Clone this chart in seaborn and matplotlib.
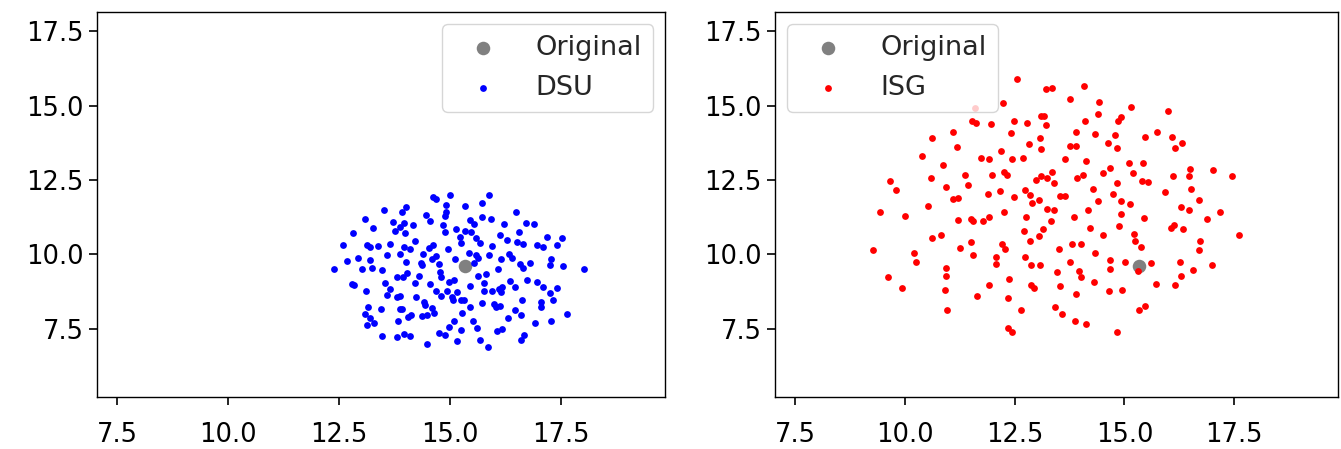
import numpy as np
import matplotlib
matplotlib.use("Agg")
import matplotlib.pyplot as plt
import seaborn as sns

# ── DATA ──────────────────────────────────────────────────────────────────────

orig_x = [15.34]
orig_y = [9.62]

dsu_x = [
    14.63, 14.69, 15.00, 14.91, 14.02, 13.93, 13.51, 14.91, 14.88, 14.46,
    13.09, 13.72, 13.97, 14.56, 13.28, 13.88, 13.76, 13.99, 14.18, 14.84,
    15.14, 14.89, 12.82, 15.22, 14.22, 12.60, 13.14, 13.19, 13.38, 13.65,
    13.97, 14.10, 14.54, 14.63, 14.95, 13.87, 13.58, 14.39, 14.69, 14.60,
    15.12, 12.93, 12.69, 13.19, 14.01, 14.35, 14.37, 14.75, 12.39, 13.03,
    13.24, 13.48,
    15.89, 15.35, 15.72, 16.48, 15.46, 15.72, 15.93, 15.54, 16.23, 16.71,
    16.90, 16.56, 15.35, 15.48, 16.14, 15.59, 16.28, 17.19, 17.53, 15.25,
    15.69, 16.52, 16.65, 15.95, 16.96, 17.09, 17.42, 15.44, 15.58, 15.63,
    15.89, 16.33, 16.41, 15.55, 16.16, 16.57, 16.80, 17.29, 17.25, 17.55,
    16.65, 16.08, 18.02,
    14.03, 13.82, 13.95, 14.30, 14.78, 14.79, 12.79, 12.84, 13.53, 13.65,
    14.21, 14.55, 14.97, 15.09, 13.11, 13.59, 13.82, 13.87, 14.23, 14.69,
    14.80, 14.93, 15.05, 15.06, 15.15, 14.42, 14.45, 14.59, 14.65, 15.24,
    13.15, 13.46, 13.88, 13.93, 13.09, 13.20, 13.30, 13.14, 13.84, 14.06,
    14.12, 14.37, 14.48, 15.10, 14.99, 13.47, 13.80, 13.97, 14.11, 14.76,
    14.88, 15.16, 14.48,
    15.63, 15.82, 15.46, 15.78, 15.76, 15.95, 16.10, 16.17, 16.16, 16.36,
    16.46, 16.74, 16.97, 17.09, 17.25, 17.42, 17.33, 15.31, 15.73, 15.46,
    15.27, 15.99, 16.04, 16.12, 16.62, 17.06, 17.05, 16.47, 16.60, 16.32,
    15.52, 16.91, 17.27, 17.65, 15.25, 15.61, 16.06, 16.18, 16.66, 16.61,
    15.69, 15.86,
]
dsu_y = [
    11.92, 11.87, 12.01, 11.67, 11.59, 11.42, 11.50, 11.44, 11.29, 11.33,
    11.20, 11.08, 11.05, 11.12, 10.88, 10.92, 10.80, 10.73, 10.97, 10.97,
    10.86, 10.75, 10.72, 10.58, 10.44, 10.30, 10.30, 10.25, 10.28, 10.34,
    10.23, 10.17, 10.21, 10.32, 10.19, 10.02, 9.97, 10.02, 9.94, 9.83,
    9.85, 9.88, 9.77, 9.80, 9.74, 9.72, 9.63, 9.69, 9.52, 9.49,
    9.55, 9.46,
    11.98, 11.62, 11.73, 11.44, 11.17, 11.25, 11.20, 11.01, 11.01, 11.06,
    11.01, 10.75, 10.78, 10.75, 10.64, 10.55, 10.47, 10.58, 10.55, 10.39,
    10.38, 10.41, 10.35, 10.29, 10.32, 10.25, 10.32, 10.06, 9.97, 9.88,
    9.99, 10.02, 9.89, 9.72, 9.83, 9.69, 9.71, 9.83, 9.65, 9.61,
    9.54, 9.50, 9.50,
    9.36, 9.25, 9.23, 9.28, 9.42, 9.22, 9.00, 8.97, 9.03, 8.83,
    9.03, 9.00, 9.06, 9.12, 8.77, 8.64, 8.56, 8.60, 8.55, 8.75,
    8.58, 8.77, 8.55, 8.47, 8.72, 8.39, 8.30, 8.19, 8.02, 8.45,
    8.24, 8.15, 8.15, 8.16, 7.99, 7.87, 7.68, 7.61, 7.77, 7.89,
    7.96, 7.93, 7.96, 7.76, 7.55, 7.26, 7.20, 7.33, 7.26, 7.35,
    7.29, 7.09, 6.98,
    9.28, 9.34, 8.94, 9.03, 8.78, 8.77, 8.84, 8.91, 8.72, 9.10,
    8.89, 9.14, 9.06, 8.91, 8.71, 8.88, 8.46, 8.45, 8.37, 8.22,
    8.04, 8.33, 8.21, 8.27, 8.46, 8.38, 8.21, 8.13, 7.96, 7.85,
    7.74, 7.68, 7.74, 7.99, 7.46, 7.52, 7.43, 7.49, 7.27, 7.10,
    7.10, 6.89,
]

isg_x = [
    11.59, 11.52, 11.63, 11.97, 11.09, 10.62, 11.20, 10.39, 10.86, 11.74,
    11.91, 9.67, 9.81, 10.60, 11.38, 11.99, 10.94, 11.43, 11.10, 11.21,
    11.90, 10.52,
    12.55, 13.22, 13.34, 14.08, 12.23, 13.77, 14.43, 13.11, 13.17, 12.49,
    12.78, 13.22, 14.40, 14.09, 14.91, 14.86, 12.41, 13.90, 14.33, 14.78,
    13.08, 12.83, 14.63, 14.82, 12.20, 13.11, 13.75, 13.90, 12.45, 12.68,
    13.64, 14.13, 12.25, 12.32, 14.66, 14.51, 13.34, 13.11, 13.24, 12.99,
    13.39, 13.92, 14.05, 14.84, 12.17, 12.73, 12.86, 12.89, 12.49, 13.05,
    13.54, 13.64, 14.28, 14.73, 14.40, 14.93,
    15.15, 16.00, 15.75, 15.47, 16.09, 16.30, 16.15, 15.11, 15.41, 15.19,
    15.39, 15.53, 16.11, 16.47, 16.50, 17.02, 17.45, 16.52, 15.92, 16.70,
    15.12,
    9.43, 10.01, 11.22, 11.50, 11.56, 11.77, 11.91, 10.62, 10.82, 9.28,
    10.21, 10.25, 11.25, 11.50, 11.56, 12.07, 12.07, 10.95, 10.94, 9.61,
    9.93, 10.91, 11.91, 11.65, 10.96,
    12.25, 13.24, 13.39, 12.77, 13.33, 13.84, 14.17, 14.92, 13.15, 12.71,
    13.05, 12.86, 14.22, 14.50, 14.87, 12.22, 12.29, 13.51, 13.80, 14.01,
    14.34, 12.73, 14.66, 14.67, 13.77, 12.87, 13.08, 13.46, 13.96, 14.01,
    14.30, 12.37, 12.88, 12.95, 13.53, 13.89, 14.65, 14.94, 12.36, 12.64,
    13.43, 13.58, 13.88, 14.12, 12.35, 12.45, 14.84,
    16.28, 16.47, 17.17, 15.45, 16.88, 16.06, 16.12, 16.33, 17.61, 15.21,
    15.23, 15.37, 16.72, 16.70, 15.01, 15.61, 16.27, 16.99, 16.57, 16.28,
    15.30, 15.71, 16.15, 15.34, 15.46,
]
isg_y = [
    14.91, 14.50, 14.41, 14.38, 14.13, 13.90, 13.60, 13.32, 13.02, 13.24,
    13.21, 12.48, 12.17, 12.56, 12.67, 12.67, 12.27, 12.33, 11.86, 11.89,
    12.04, 11.64,
    15.89, 15.56, 15.58, 15.65, 15.08, 15.21, 15.14, 14.66, 14.66, 14.50,
    14.42, 14.36, 14.72, 14.47, 14.63, 14.47, 14.08, 14.12, 14.04, 14.00,
    13.91, 13.71, 13.74, 13.57, 13.49, 13.55, 13.63, 13.63, 13.21, 13.24,
    13.21, 13.14, 12.78, 12.67, 12.91, 12.73, 12.77, 12.65, 12.57, 12.50,
    12.39, 12.56, 12.68, 12.39, 12.12, 12.15, 11.98, 11.72, 11.92, 11.83,
    11.96, 11.95, 12.21, 12.04, 11.81, 11.81,
    14.97, 14.81, 14.10, 13.94, 13.96, 13.74, 13.59, 13.07, 13.08, 12.73,
    12.48, 12.44, 12.62, 12.62, 12.86, 12.84, 12.65, 12.20, 12.10, 11.82,
    11.68,
    11.44, 11.29, 11.17, 11.20, 11.13, 11.11, 11.26, 10.55, 10.66, 10.16,
    10.04, 9.74, 10.21, 10.41, 9.99, 9.91, 9.69, 9.53, 9.26, 9.22,
    8.86, 8.80, 8.95, 8.60, 8.13,
    11.42, 11.51, 11.48, 11.24, 11.12, 11.26, 11.49, 11.34, 10.86, 10.78,
    10.60, 10.44, 10.88, 10.64, 10.95, 10.34, 10.17, 10.17, 10.34, 10.36,
    10.04, 9.90, 9.82, 9.50, 9.74, 9.64, 9.64, 9.39, 9.45, 9.24,
    9.07, 9.16, 8.96, 8.88, 8.94, 8.65, 8.76, 8.81, 8.52, 8.13,
    8.24, 7.99, 7.75, 7.67, 7.52, 7.38, 7.38,
    11.59, 11.48, 11.41, 11.23, 11.20, 10.88, 10.97, 10.86, 10.64, 10.67,
    10.44, 10.25, 10.45, 10.16, 9.75, 9.72, 9.74, 9.64, 9.46, 9.27,
    9.44, 9.00, 8.95, 8.14, 8.27,
]

tick_values = [7.5, 10.0, 12.5, 15.0, 17.5]

# ── PLOT ──────────────────────────────────────────────────────────────────────

sns.set_style("ticks")
plt.rcParams['font.family'] = ['DejaVu Sans']

fig = plt.figure(figsize=(13.41, 4.49), dpi=100)
ax1 = fig.add_axes([0.0723, 0.116, 0.4237, 0.857])
ax2 = fig.add_axes([0.578, 0.116, 0.4195, 0.857])

panels = [
    (ax1, dsu_x, dsu_y, 'blue', 'DSU', 'upper right'),
    (ax2, isg_x, isg_y, 'red', 'ISG', 'upper left'),
]

for ax, xs, ys, col, name, loc in panels:
    sns.scatterplot(x=orig_x, y=orig_y, color='gray', s=95, linewidth=0,
                    label='Original', ax=ax)
    sns.scatterplot(x=xs, y=ys, color=col, s=24, linewidth=0,
                    label=name, ax=ax)
    ax.set_xlim(7.05, 19.85)
    ax.set_ylim(5.2, 18.15)
    ax.set_xticks(tick_values)
    ax.set_yticks(tick_values)
    ax.tick_params(labelsize=18.5, length=6, width=1.2, colors='black')
    ax.tick_params(axis='x', pad=12)
    for sp in ax.spines.values():
        sp.set_color('black')
        sp.set_linewidth(1.0)
    ax.legend(loc=loc, fontsize=19.5, borderaxespad=0.45,
              handlelength=2.2, handletextpad=0.85)

fig.savefig("out.png", dpi=100)
